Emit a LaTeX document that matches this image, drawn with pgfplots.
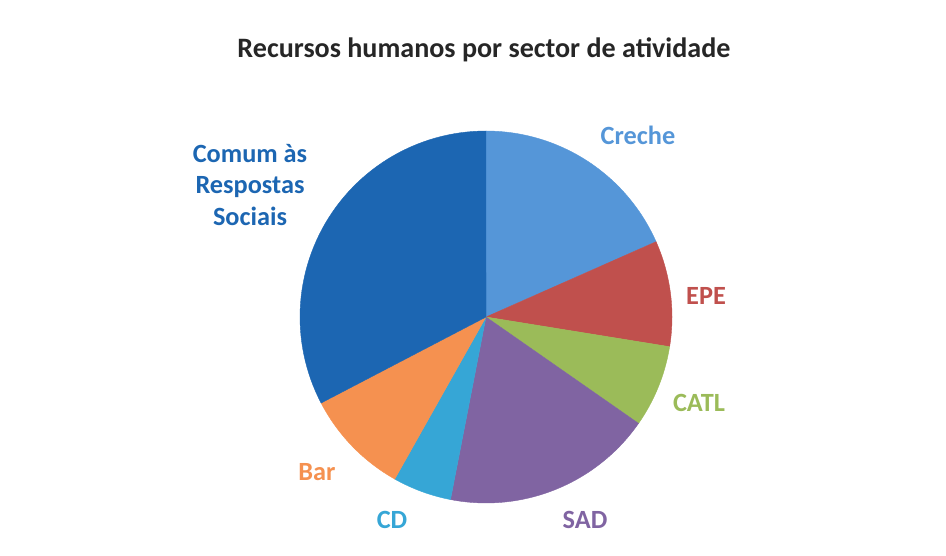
\documentclass[border=0pt]{standalone}
\usepackage{fontspec}
\setmainfont{Carlito}
\usepackage{pgfplots}
\pgfplotsset{compat=1.18}

\definecolor{creche}{HTML}{5596D8}
\definecolor{epe}{HTML}{C0504D}
\definecolor{catl}{HTML}{9BBB59}
\definecolor{sad}{HTML}{8064A2}
\definecolor{cd}{HTML}{36A6D6}
\definecolor{bar}{HTML}{F59150}
\definecolor{comum}{HTML}{1C66B2}

% one slice: colour, cumulative count before, cumulative count after (total 98)
\newcommand\slice[3]{%
  \addplot[fill=#1, draw=#1, line width=0.2pt, samples=60,
    domain={90-360*#2/98}:{90-360*#3/98}]
    ({486+186*cos(x)},{239+186*sin(x)}) -- (axis cs:486,239) -- cycle;
}

\begin{document}
\begin{tikzpicture}
\begin{axis}[
    scale only axis,
    width=473bp, height=278bp,
    xmin=0, xmax=946, ymin=0, ymax=556,
    hide axis, clip=false,
    font=\bfseries\fontsize{13.2}{15}\selectfont,
    ]
\addplot[draw=none] coordinates {(0,0) (946,556)};
% Creche 18, EPE 9, CATL 7, SAD 18, CD 5, Bar 9, Comum 32
\slice{creche}{0}{18}
\slice{epe}{18}{27}
\slice{catl}{27}{34}
\slice{sad}{34}{52}
\slice{cd}{52}{57}
\slice{bar}{57}{66}
\slice{comum}{66}{98}

\node[font=\bfseries\fontsize{14.1}{17}\selectfont, text=black!85] at (axis cs:484,506) {Recursos humanos por sector de atividade};
\node[text=creche] at (axis cs:638,421) {Creche};
\node[text=epe] at (axis cs:706,260) {EPE};
\node[text=catl] at (axis cs:699,153) {CATL};
\node[text=sad] at (axis cs:585,36) {SAD};
\node[text=cd] at (axis cs:392,36) {CD};
\node[text=bar] at (axis cs:317,84) {Bar};
\node[text=comum, align=center, font=\bfseries\fontsize{13.2}{16}\selectfont] at (axis cs:250,371) {Comum às\\Respostas\\Sociais};
\end{axis}
\end{tikzpicture}
\end{document}
